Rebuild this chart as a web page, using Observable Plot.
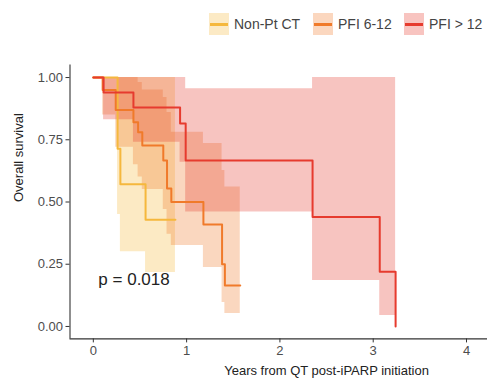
<!DOCTYPE html>
<html><head><meta charset="utf-8">
<script src="https://cdn.jsdelivr.net/npm/d3@7"></script>
<script src="https://cdn.jsdelivr.net/npm/@observablehq/plot@0.6"></script>
<style>
body{margin:0;background:#fff;font-family:"Liberation Sans",Arial,sans-serif;}
#wrap{position:relative;width:487px;height:378px;overflow:hidden;background:#fff}
#legend{position:relative;width:487px;height:50px}
.sw{position:absolute;top:13px;width:20px;height:22px}
.sw i{position:absolute;left:1px;right:1px;top:10px;height:2.5px}
.lb{position:absolute;top:15px;font-size:14px;color:#444;line-height:18px;white-space:nowrap}
</style></head>
<body>
<div id="wrap"><div id="legend"></div><div id="chart"></div></div>
<script>
// ---- data ----
const groups = ["Non-Pt CT", "PFI 6-12", "PFI > 12"];
const colors = ["#F5B83D", "#F07A2A", "#E63B2E"];

const nonPtTime  = [0, 0.26, 0.29, 0.56, 0.88];
const nonPtSurv  = [1, 0.714, 0.571, 0.429, 0.429];
const nonPtLower = [1, 0.45, 0.30, 0.217, 0.217];
const nonPtUpper = [1, 1, 1, 1, 1];

const pfi612Time  = [0, 0.10, 0.24, 0.43, 0.48, 0.525, 0.75, 0.79, 0.836, 1.18, 1.38, 1.41, 1.575];
const pfi612Surv  = [1, 0.95, 0.87, 0.82, 0.78, 0.727, 0.667, 0.554, 0.50, 0.41, 0.25, 0.165, 0.165];
const pfi612Lower = [1, 0.85, 0.72, 0.65, 0.60, 0.55, 0.47, 0.37, 0.325, 0.237, 0.096, 0.052, 0.052];
const pfi612Upper = [1, 1, 1, 1, 0.98, 0.95, 0.92, 0.86, 0.78, 0.735, 0.627, 0.56, 0.56];

const pfi12Time  = [0, 0.11, 0.43, 0.93, 0.99, 2.35, 3.07, 3.24];
const pfi12Surv  = [1, 0.94, 0.88, 0.815, 0.667, 0.44, 0.22, 0];
const pfi12Lower = [1, 0.83, 0.74, 0.66, 0.46, 0.185, 0.044, 0.044];
const pfi12Upper = [1, 1, 1, 1, 0.955, 1, 1, 1];

const xTicks = [0, 1, 2, 3, 4];
const yTicks = [0, 0.25, 0.5, 0.75, 1];
const xDomain = [-0.25, 4.225];
const xPanelFull = [-0.25, 5.25];
const yDomain = [-0.05, 1.05];
const xLabel = "Years from QT post-iPARP initiation";
const yLabel = "Overall survival";
const pLabel = "p = 0.018";
const pPos = [0.054, 0.19];

// ---- build ----
function rows(g, t, s, lo, hi) {
  return t.map((d, i) => ({group: g, time: d, surv: s[i], lower: lo[i], upper: hi[i]}));
}
const data = [
  ...rows(groups[0], nonPtTime, nonPtSurv, nonPtLower, nonPtUpper),
  ...rows(groups[1], pfi612Time, pfi612Surv, pfi612Lower, pfi612Upper),
  ...rows(groups[2], pfi12Time, pfi12Surv, pfi12Lower, pfi12Upper)
];

// legend
const leg = document.getElementById("legend");
const swX = [209, 313, 404];
groups.forEach((g, i) => {
  const sw = document.createElement("div");
  sw.className = "sw";
  sw.style.left = swX[i] + "px";
  sw.style.background = d3.interpolateRgb("#fff", colors[i])(0.3);
  const ln = document.createElement("i");
  ln.style.background = colors[i];
  sw.appendChild(ln);
  leg.appendChild(sw);
  const lb = document.createElement("div");
  lb.className = "lb";
  lb.style.left = (swX[i] + 25) + "px";
  lb.textContent = g;
  leg.appendChild(lb);
});

const chart = Plot.plot({
  width: 487, height: 328,
  marginTop: 14.6, marginBottom: 39.6, marginLeft: 69.5, marginRight: 0,
  x: {domain: xDomain, label: null},
  y: {domain: yDomain, label: null},
  color: {domain: groups, range: colors},
  style: {fontFamily: "'Liberation Sans', Arial, sans-serif", fontSize: "13px", background: "white", overflow: "visible"},
  marks: [
    Plot.areaY(data, {x: "time", y1: "lower", y2: "upper", z: "group", fill: "group", fillOpacity: 0.3, curve: "step-after"}),
    Plot.lineY(data, {x: "time", y: "surv", z: "group", stroke: "group", strokeWidth: 2, curve: "step-after"}),
    Plot.ruleX([xDomain[0]], {stroke: "#333", strokeWidth: 1.1}),
    Plot.ruleY([yDomain[0]], {stroke: "#333", strokeWidth: 1.1}),
    Plot.axisX({ticks: xTicks, tickSize: 4, tickPadding: 3, tickFormat: d3.format("d"), stroke: "#333", fill: "#4d4d4d", fontSize: 13, label: null}),
    Plot.axisY({ticks: yTicks, tickSize: 4, tickPadding: 3, tickFormat: d3.format(".2f"), stroke: "#333", fill: "#4d4d4d", fontSize: 13, label: null}),
    Plot.text([pLabel], {x: pPos[0], y: pPos[1], textAnchor: "start", lineAnchor: "middle", fontSize: 17, fill: "#222"}),
    Plot.text([xLabel], {x: (xPanelFull[0] + xPanelFull[1]) / 2, frameAnchor: "bottom", lineAnchor: "top", dy: 27, fontSize: 13, fill: "#222"}),
    Plot.text([yLabel], {frameAnchor: "left", rotate: -90, dx: -51, lineAnchor: "middle", fontSize: 13, fill: "#222"})
  ]
});
document.getElementById("chart").appendChild(chart);
</script>
</body></html>
